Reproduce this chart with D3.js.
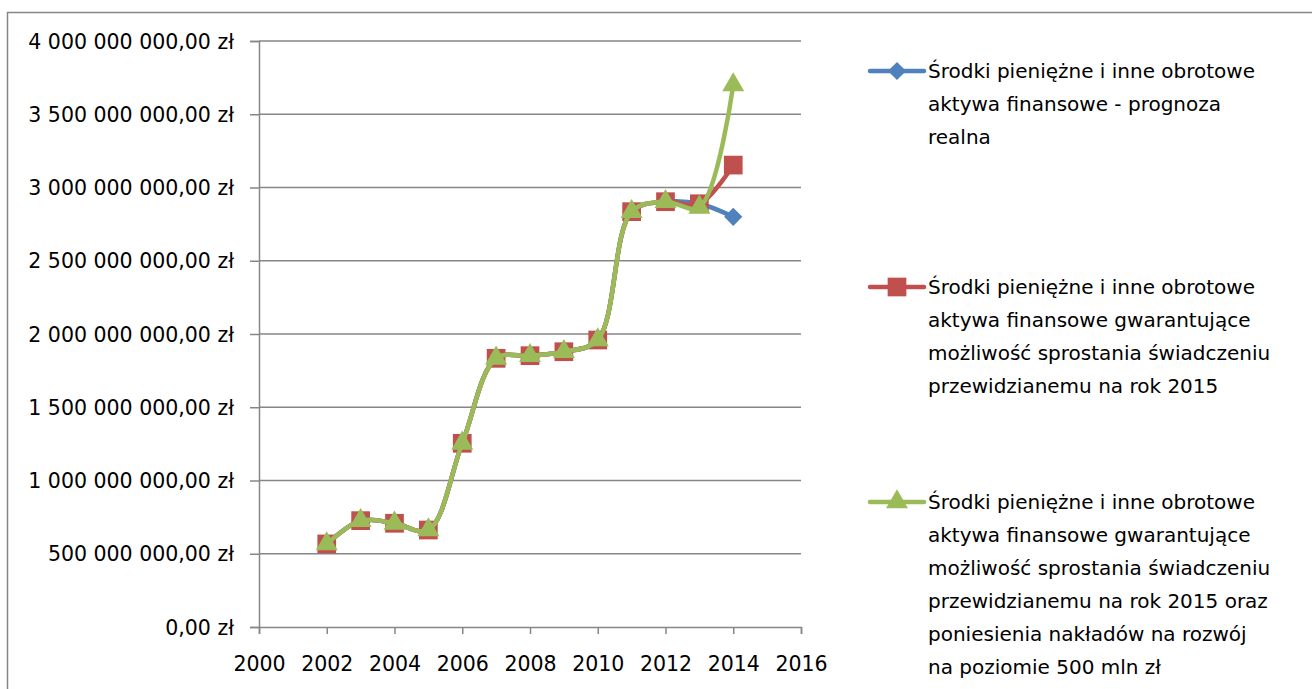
<!DOCTYPE html>
<html>
<head>
<meta charset="utf-8">
<script src="https://cdn.jsdelivr.net/npm/d3@7"></script>
<style>
    body { margin: 0; background: #fff; }
    svg { display: block; font-family: "DejaVu Sans", sans-serif; }
</style>
</head>
<body>
<div id="chart"></div>
<script>
var years = [2002, 2003, 2004, 2005, 2006, 2007, 2008, 2009, 2010, 2011, 2012, 2013, 2014];
var realna = [0.567e9, 0.726e9, 0.708e9, 0.662e9, 1.254e9, 1.834e9, 1.852e9, 1.879e9, 1.959e9, 2.835e9, 2.903e9, 2.889e9, 2.80e9];
var gwarant = [0.567e9, 0.726e9, 0.708e9, 0.662e9, 1.254e9, 1.834e9, 1.852e9, 1.879e9, 1.959e9, 2.835e9, 2.903e9, 2.889e9, 3.153e9];
var rozwoj = [0.567e9, 0.726e9, 0.708e9, 0.662e9, 1.254e9, 1.834e9, 1.852e9, 1.879e9, 1.959e9, 2.835e9, 2.903e9, 2.865e9, 3.70e9];
var xTicks = [2000, 2002, 2004, 2006, 2008, 2010, 2012, 2014, 2016];
var yTicks = [0, 0.5e9, 1e9, 1.5e9, 2e9, 2.5e9, 3e9, 3.5e9, 4e9];
var legendLabels = [
    ['Środki pieniężne i inne obrotowe', 'aktywa finansowe - prognoza', 'realna'],
    ['Środki pieniężne i inne obrotowe', 'aktywa finansowe gwarantujące', 'możliwość sprostania świadczeniu', 'przewidzianemu na rok 2015'],
    ['Środki pieniężne i inne obrotowe', 'aktywa finansowe gwarantujące', 'możliwość sprostania świadczeniu', 'przewidzianemu na rok 2015 oraz', 'poniesienia nakładów na rozwój', 'na poziomie 500 mln zł']
];

var series = [
    { values: realna, color: '#4F81BD', marker: d3.symbolSquare, size: 165, rotate: 45 },
    { values: gwarant, color: '#C0504D', marker: d3.symbolSquare, size: 350, rotate: 0 },
    { values: rozwoj, color: '#9BBB59', marker: d3.symbolTriangle, size: 210, rotate: 0 }
];

var width = 1312, height = 689;
var svg = d3.select('#chart').append('svg')
    .attr('width', width)
    .attr('height', height);

// outer chart frame
svg.append('rect')
    .attr('x', 7.5).attr('y', 12.5)
    .attr('width', width + 20).attr('height', height + 20)
    .attr('fill', 'none')
    .attr('stroke', '#868686')
    .attr('stroke-width', 1.5);

var plot = { left: 259, right: 801, top: 41, bottom: 627 };
var x = d3.scaleLinear().domain([2000, 2016]).range([plot.left, plot.right]);
var y = d3.scaleLinear().domain([0, 4e9]).range([plot.bottom, plot.top]);

var fmtZl = function (v) {
    var s = d3.format(',.2f')(v);
    return s.replace(/,/g, ' ').replace('.', ',') + ' zł';
};

// gridlines
svg.append('g')
    .selectAll('line')
    .data(yTicks.filter(function (d) { return d > 0; }))
    .enter()
    .append('line')
    .attr('x1', plot.left).attr('x2', plot.right)
    .attr('y1', function (d) { return y(d); })
    .attr('y2', function (d) { return y(d); })
    .attr('stroke', '#868686')
    .attr('stroke-width', 1.5);

var yAxis = svg.append('g')
    .attr('transform', 'translate(' + plot.left + ',0)')
    .call(d3.axisLeft(y).tickValues(yTicks).tickSize(9).tickPadding(16).tickFormat(fmtZl));
var xAxis = svg.append('g')
    .attr('transform', 'translate(0,' + plot.bottom + ')')
    .call(d3.axisBottom(x).tickValues(xTicks).tickSize(7).tickPadding(22).tickFormat(d3.format('d')));

[yAxis, xAxis].forEach(function (ax) {
    ax.select('.domain').attr('stroke', '#868686').attr('stroke-width', 1.5);
    ax.selectAll('.tick line').attr('stroke', '#868686').attr('stroke-width', 1.5);
    ax.selectAll('.tick text')
        .attr('fill', '#000')
        .attr('font-size', '20.5px')
        .attr('font-family', '"DejaVu Sans", sans-serif');
});
yAxis.selectAll('.tick text').attr('dy', '0.35em');

// smoothed lines, like the spreadsheet's "smooth line" option
var line = d3.line()
    .x(function (d, i) { return x(years[i]); })
    .y(function (d) { return y(d); })
    .curve(d3.curveCatmullRom.alpha(0.5));

series.forEach(function (s) {
    var g = svg.append('g');
    g.append('path')
        .datum(s.values)
        .attr('d', line)
        .attr('fill', 'none')
        .attr('stroke', s.color)
        .attr('stroke-width', 4.5)
        .attr('stroke-linecap', 'round')
        .attr('stroke-linejoin', 'round');
    g.selectAll('path.mk')
        .data(s.values)
        .enter()
        .append('path')
        .attr('class', 'mk')
        .attr('d', d3.symbol().type(s.marker).size(s.size))
        .attr('transform', function (d, i) {
            return 'translate(' + x(years[i]) + ',' + y(d) + ') rotate(' + s.rotate + ')';
        })
        .attr('fill', s.color);
});

// legend
var legendTops = [71, 287, 502];
var legend = svg.selectAll('.legend')
    .data(series)
    .enter()
    .append('g')
    .attr('class', 'legend')
    .attr('transform', function (d, i) { return 'translate(0,' + legendTops[i] + ')'; });

legend.append('line')
    .attr('x1', 870).attr('x2', 924)
    .attr('y1', 0).attr('y2', 0)
    .attr('stroke', function (d) { return d.color; })
    .attr('stroke-width', 4.5)
    .attr('stroke-linecap', 'round');
legend.append('path')
    .attr('d', function (d) { return d3.symbol().type(d.marker).size(d.size)(); })
    .attr('transform', function (d) { return 'translate(897,0) rotate(' + d.rotate + ')'; })
    .attr('fill', function (d) { return d.color; });

legend.each(function (d, i) {
    var t = d3.select(this).append('text')
        .attr('x', 928)
        .attr('y', 0)
        .attr('font-size', '20px')
        .attr('fill', '#000');
    legendLabels[i].forEach(function (txt, j) {
        t.append('tspan')
            .attr('x', 928)
            .attr('y', j * 33)
            .attr('dy', '0.35em')
            .text(txt);
    });
});
</script>
</body>
</html>
